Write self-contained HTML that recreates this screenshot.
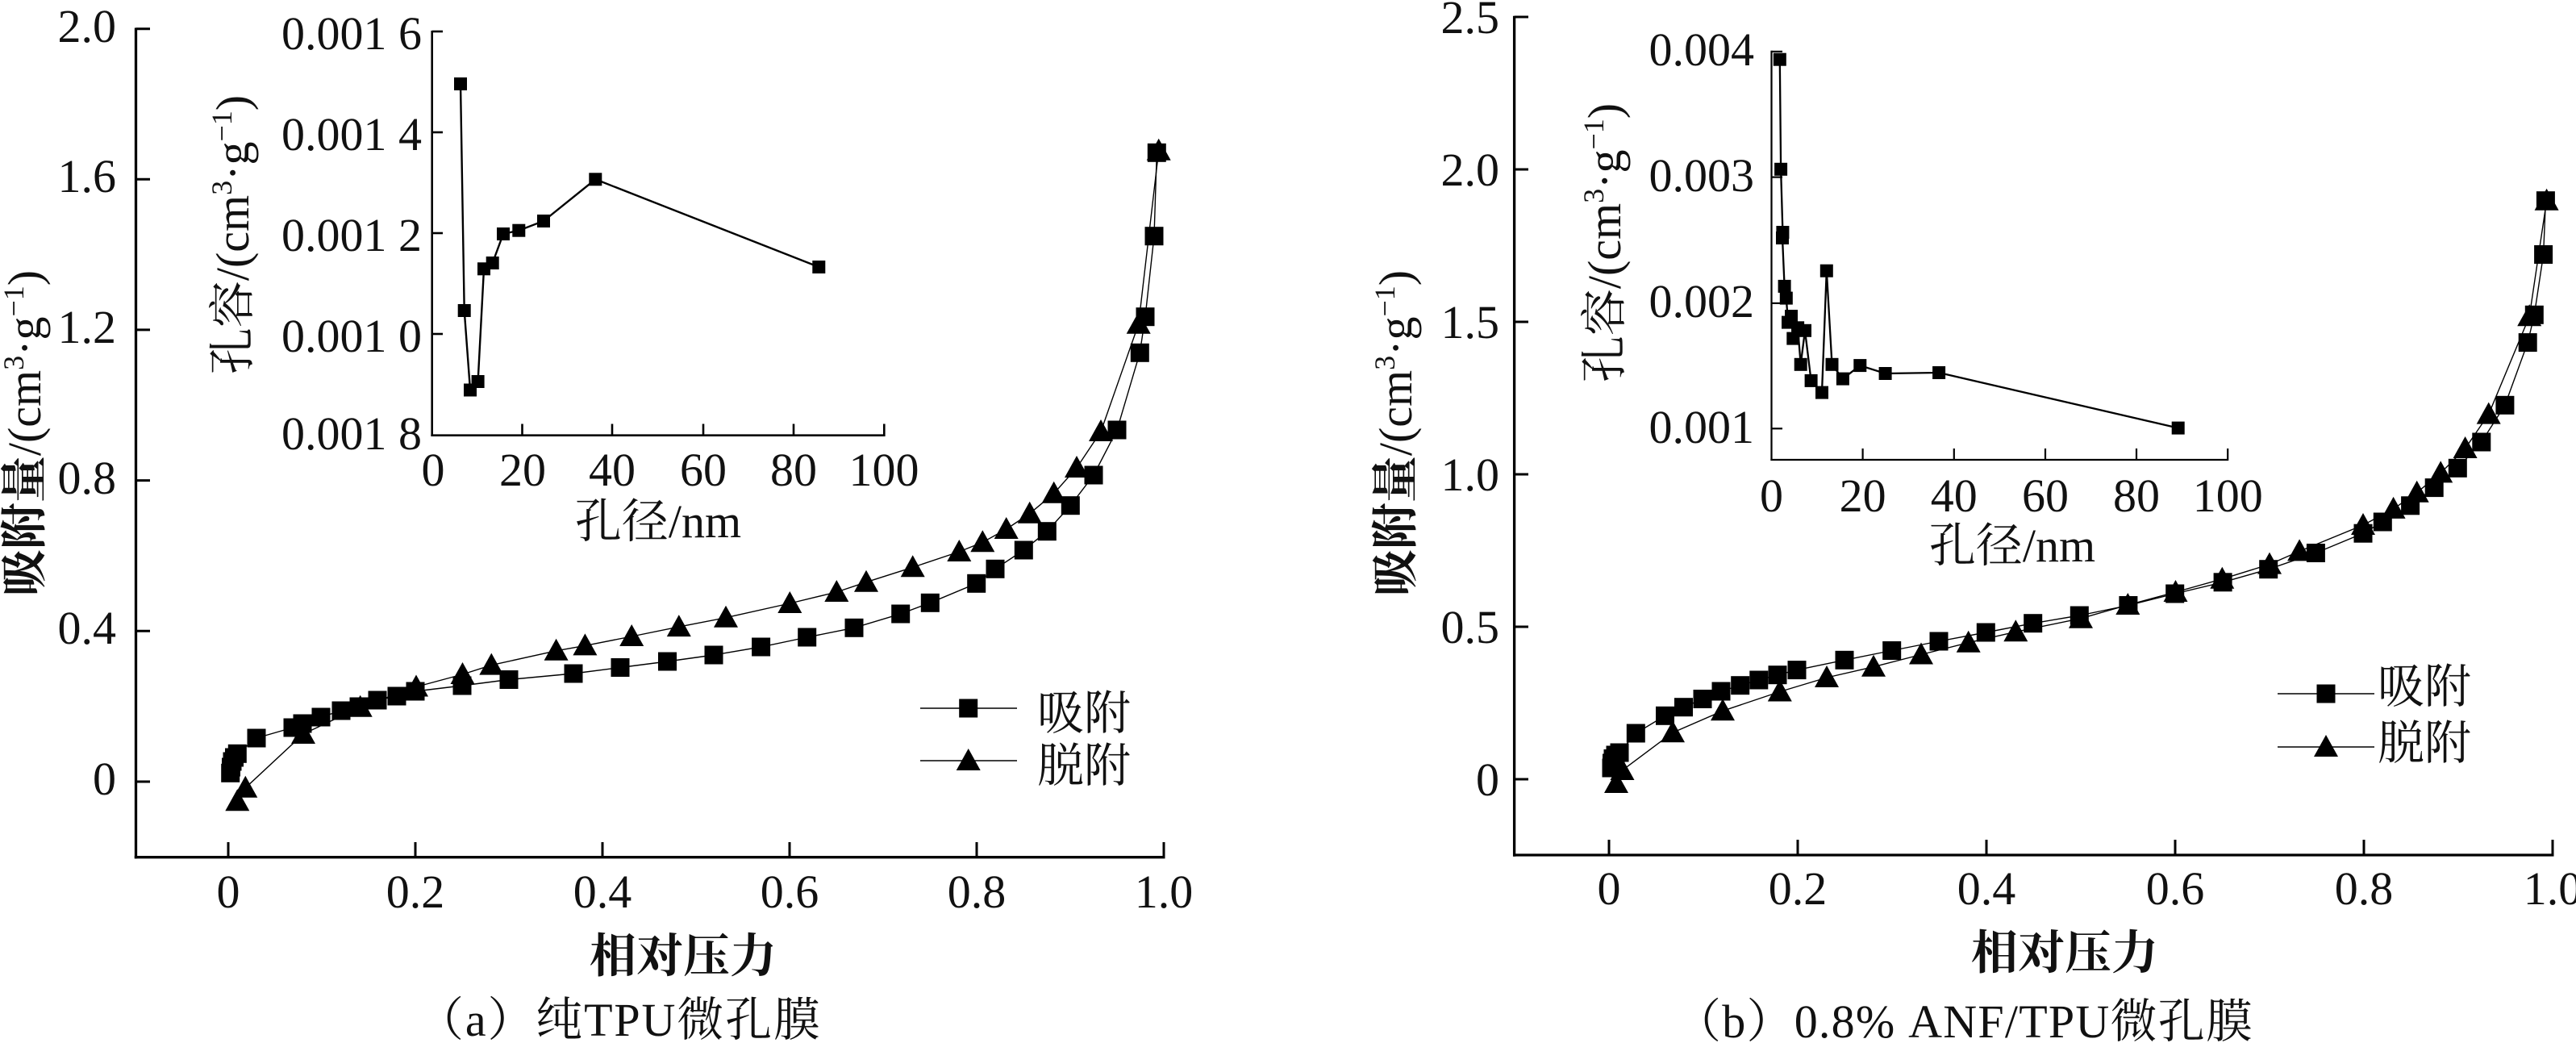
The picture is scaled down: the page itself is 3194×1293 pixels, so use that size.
<!DOCTYPE html>
<html>
<head>
<meta charset="utf-8">
<style>
  html,body{margin:0;padding:0;background:#fff;}
  svg{display:block;font-family:"Liberation Serif","Noto Serif CJK SC",serif;}
  svg text, svg tspan{font-family:"Liberation Serif","Noto Serif CJK SC",serif;fill:#111;}
</style>
</head>
<body>
<svg width="3194" height="1293" viewBox="0 0 3194 1293" xmlns="http://www.w3.org/2000/svg" font-family="'Liberation Serif', 'Noto Serif CJK SC', serif">
<defs>
  <rect id="sq" x="-11.5" y="-11.5" width="23" height="23" fill="#000"/>
  <path id="tr" d="M0,-15 L15,12 L-15,12 Z" fill="#000"/>
  <rect id="sm" x="-8" y="-8" width="16" height="16" fill="#000"/>
</defs>
<rect width="3194" height="1293" fill="#fff"/>
<g font-family="'Liberation Serif', 'Noto Serif CJK SC', serif">

<!-- ================= LEFT MAIN ================= -->
<g stroke="#000" fill="none">
  <line x1="168.5" y1="34.5" x2="168.5" y2="1064.4" stroke-width="3.3"/>
  <line x1="166.8" y1="1062.7" x2="1444.5" y2="1062.7" stroke-width="3.3"/>
  <g stroke-width="3">
    <line x1="168.5" y1="35.7" x2="186" y2="35.7"/>
    <line x1="168.5" y1="222.2" x2="186" y2="222.2"/>
    <line x1="168.5" y1="408.9" x2="186" y2="408.9"/>
    <line x1="168.5" y1="595.6" x2="186" y2="595.6"/>
    <line x1="168.5" y1="782.3" x2="186" y2="782.3"/>
    <line x1="168.5" y1="969" x2="186" y2="969"/>
    <line x1="283" y1="1062.7" x2="283" y2="1044"/>
    <line x1="515" y1="1062.7" x2="515" y2="1044"/>
    <line x1="747" y1="1062.7" x2="747" y2="1044"/>
    <line x1="979" y1="1062.7" x2="979" y2="1044"/>
    <line x1="1211" y1="1062.7" x2="1211" y2="1044"/>
    <line x1="1443" y1="1062.7" x2="1443" y2="1044"/>
  </g>
</g>
<g font-size="58" text-anchor="end">
  <text x="144" y="52">2.0</text>
  <text x="144" y="238">1.6</text>
  <text x="144" y="425">1.2</text>
  <text x="144" y="612">0.8</text>
  <text x="144" y="798">0.4</text>
  <text x="144" y="985">0</text>
</g>
<g font-size="58" text-anchor="middle">
  <text x="283" y="1125">0</text>
  <text x="515" y="1125">0.2</text>
  <text x="747" y="1125">0.4</text>
  <text x="979" y="1125">0.6</text>
  <text x="1211" y="1125">0.8</text>
  <text x="1443" y="1125">1.0</text>
</g>
<text transform="translate(50,537) rotate(-90)" text-anchor="middle" font-size="58"><tspan font-weight="bold">吸附量</tspan>/(cm<tspan font-size="36" dy="-21">3</tspan><tspan dy="21">·g</tspan><tspan font-size="36" dy="-21">−1</tspan><tspan dy="21">)</tspan></text>
<text x="847" y="1205" font-size="58" font-weight="bold" text-anchor="middle">相对压力</text>
<text x="517" y="1284" font-size="58" textLength="500" lengthAdjust="spacing">（a）纯TPU微孔膜</text>

<!-- left main curves -->
<g fill="none" stroke="#000" stroke-width="1.4">
  <polyline points="285.7,958.3 286.5,951 288,944 290.5,939 294.3,934.3 318,915 363,902 375,897 398,889 423,881 445,876 468,868 492,863 515,857 573,850 631,842.5 711,835 769,827.5 827.5,820 885,812 943.6,802 1000.7,790 1059,778.3 1116.7,761 1153.3,747.3 1210.7,723.3 1234,705.3 1269.3,682 1298.3,658.7 1327.3,626.7 1356,589 1385,533 1413.3,437.3 1420,392.7 1431,292.7 1434.3,189.3"/>
  <polyline points="294.3,993.3 304.3,976.7 376,910 446.7,876.7 516,851.5 573.5,836 609.3,824.6 689.6,806.8 725.4,800.4 783.2,789 841.8,777.1 900,765.7 979.3,748 1037.3,734 1074,721.7 1131.7,703.3 1189.3,684 1218.3,672.3 1247.7,656 1276.7,636.7 1306.7,611.7 1335,580 1365,535 1411.7,401.7 1436.7,186.7"/>
</g>
<g>
  <use href="#sq" x="285.7" y="958.3"/><use href="#sq" x="286.5" y="951"/><use href="#sq" x="288" y="944"/><use href="#sq" x="290.5" y="939"/><use href="#sq" x="294.3" y="934.3"/>
  <use href="#sq" x="318" y="915"/><use href="#sq" x="363" y="902"/><use href="#sq" x="375" y="897"/><use href="#sq" x="398" y="889"/><use href="#sq" x="423" y="881"/>
  <use href="#sq" x="445" y="876"/><use href="#sq" x="468" y="868"/><use href="#sq" x="492" y="863"/><use href="#sq" x="515" y="857"/><use href="#sq" x="573" y="850"/>
  <use href="#sq" x="631" y="842.5"/><use href="#sq" x="711" y="835"/><use href="#sq" x="769" y="827.5"/><use href="#sq" x="827.5" y="820"/><use href="#sq" x="885" y="812"/>
  <use href="#sq" x="943.6" y="802"/><use href="#sq" x="1000.7" y="790"/><use href="#sq" x="1059" y="778.3"/><use href="#sq" x="1116.7" y="761"/><use href="#sq" x="1153.3" y="747.3"/>
  <use href="#sq" x="1210.7" y="723.3"/><use href="#sq" x="1234" y="705.3"/><use href="#sq" x="1269.3" y="682"/><use href="#sq" x="1298.3" y="658.7"/><use href="#sq" x="1327.3" y="626.7"/>
  <use href="#sq" x="1356" y="589"/><use href="#sq" x="1385" y="533"/><use href="#sq" x="1413.3" y="437.3"/><use href="#sq" x="1420" y="392.7"/><use href="#sq" x="1431" y="292.7"/><use href="#sq" x="1434.3" y="189.3"/>
</g>
<g>
  <use href="#tr" x="294.3" y="993.3"/><use href="#tr" x="304.3" y="976.7"/><use href="#tr" x="376" y="910"/><use href="#tr" x="446.7" y="876.7"/><use href="#tr" x="516" y="851.5"/>
  <use href="#tr" x="573.5" y="836"/><use href="#tr" x="609.3" y="824.6"/><use href="#tr" x="689.6" y="806.8"/><use href="#tr" x="725.4" y="800.4"/><use href="#tr" x="783.2" y="789"/>
  <use href="#tr" x="841.8" y="777.1"/><use href="#tr" x="900" y="765.7"/><use href="#tr" x="979.3" y="748"/><use href="#tr" x="1037.3" y="734"/><use href="#tr" x="1074" y="721.7"/>
  <use href="#tr" x="1131.7" y="703.3"/><use href="#tr" x="1189.3" y="684"/><use href="#tr" x="1218.3" y="672.3"/><use href="#tr" x="1247.7" y="656"/><use href="#tr" x="1276.7" y="636.7"/>
  <use href="#tr" x="1306.7" y="611.7"/><use href="#tr" x="1335" y="580"/><use href="#tr" x="1365" y="535"/><use href="#tr" x="1411.7" y="401.7"/><use href="#tr" x="1436.7" y="186.7"/>
</g>
<!-- left legend -->
<g stroke="#000" stroke-width="1.4">
  <line x1="1141" y1="878" x2="1261" y2="878"/>
  <line x1="1141" y1="943" x2="1261" y2="943"/>
</g>
<use href="#sq" x="1200.7" y="878"/>
<use href="#tr" x="1200.7" y="943"/>
<text x="1286" y="904" font-size="58">吸附</text>
<text x="1286" y="969" font-size="58">脱附</text>

<!-- left inset -->
<g stroke="#000" fill="none" stroke-width="2.6">
  <line x1="535.7" y1="38" x2="535.7" y2="541"/>
  <line x1="534.4" y1="539.7" x2="1096.3" y2="539.7"/>
  <line x1="535.7" y1="39" x2="549" y2="39"/>
  <line x1="535.7" y1="164" x2="549" y2="164"/>
  <line x1="535.7" y1="289" x2="549" y2="289"/>
  <line x1="535.7" y1="414" x2="549" y2="414"/>
  <line x1="647.5" y1="539.7" x2="647.5" y2="525.5"/>
  <line x1="759" y1="539.7" x2="759" y2="525.5"/>
  <line x1="872" y1="539.7" x2="872" y2="525.5"/>
  <line x1="984" y1="539.7" x2="984" y2="525.5"/>
  <line x1="1096.3" y1="541" x2="1096.3" y2="525.5"/>
</g>
<g font-size="58" text-anchor="end">
  <text x="523" y="61">0.001 6</text>
  <text x="523" y="186">0.001 4</text>
  <text x="523" y="311">0.001 2</text>
  <text x="523" y="436">0.001 0</text>
  <text x="523" y="557">0.001 8</text>
</g>
<g font-size="58" text-anchor="middle">
  <text x="537" y="602">0</text>
  <text x="648" y="602">20</text>
  <text x="759" y="602">40</text>
  <text x="872" y="602">60</text>
  <text x="984" y="602">80</text>
  <text x="1096" y="602">100</text>
</g>
<text x="816" y="666" font-size="58" text-anchor="middle">孔径/nm</text>
<text transform="translate(308,291) rotate(-90)" text-anchor="middle" font-size="58">孔容/(cm<tspan font-size="36" dy="-21">3</tspan><tspan dy="21">·g</tspan><tspan font-size="36" dy="-21">−1</tspan><tspan dy="21">)</tspan></text>
<polyline fill="none" stroke="#000" stroke-width="2.4" points="571,104 575.7,385 583,483.5 592.6,473 600,333.3 610.7,326 624,290 643.3,285.7 674,274 738.3,222.3 1015.3,331"/>
<g>
  <use href="#sm" x="571" y="104"/><use href="#sm" x="575.7" y="385"/><use href="#sm" x="583" y="483.5"/><use href="#sm" x="592.6" y="473"/>
  <use href="#sm" x="600" y="333.3"/><use href="#sm" x="610.7" y="326"/><use href="#sm" x="624" y="290"/><use href="#sm" x="643.3" y="285.7"/>
  <use href="#sm" x="674" y="274"/><use href="#sm" x="738.3" y="222.3"/><use href="#sm" x="1015.3" y="331"/>
</g>

<!-- ================= RIGHT MAIN ================= -->
<g stroke="#000" fill="none">
  <line x1="1877.6" y1="19.8" x2="1877.6" y2="1061.7" stroke-width="3.3"/>
  <line x1="1876" y1="1060" x2="3166.5" y2="1060" stroke-width="3.3"/>
  <g stroke-width="3">
    <line x1="1877.6" y1="21" x2="1895" y2="21"/>
    <line x1="1877.6" y1="210" x2="1895" y2="210"/>
    <line x1="1877.6" y1="399" x2="1895" y2="399"/>
    <line x1="1877.6" y1="588" x2="1895" y2="588"/>
    <line x1="1877.6" y1="777" x2="1895" y2="777"/>
    <line x1="1877.6" y1="966" x2="1895" y2="966"/>
    <line x1="1995" y1="1060" x2="1995" y2="1041"/>
    <line x1="2229" y1="1060" x2="2229" y2="1041"/>
    <line x1="2463" y1="1060" x2="2463" y2="1041"/>
    <line x1="2697" y1="1060" x2="2697" y2="1041"/>
    <line x1="2931" y1="1060" x2="2931" y2="1041"/>
    <line x1="3165" y1="1060" x2="3165" y2="1041"/>
  </g>
</g>
<g font-size="58" text-anchor="end">
  <text x="1859" y="41">2.5</text>
  <text x="1859" y="230">2.0</text>
  <text x="1859" y="419">1.5</text>
  <text x="1859" y="608">1.0</text>
  <text x="1859" y="797">0.5</text>
  <text x="1859" y="986">0</text>
</g>
<g font-size="58" text-anchor="middle">
  <text x="1995" y="1121">0</text>
  <text x="2229" y="1121">0.2</text>
  <text x="2463" y="1121">0.4</text>
  <text x="2697" y="1121">0.6</text>
  <text x="2931" y="1121">0.8</text>
  <text x="3165" y="1121">1.0</text>
</g>
<text transform="translate(1750,537) rotate(-90)" text-anchor="middle" font-size="58"><tspan font-weight="bold">吸附量</tspan>/(cm<tspan font-size="36" dy="-21">3</tspan><tspan dy="21">·g</tspan><tspan font-size="36" dy="-21">−1</tspan><tspan dy="21">)</tspan></text>
<text x="2560" y="1201" font-size="58" font-weight="bold" text-anchor="middle">相对压力</text>
<text x="2076" y="1286" font-size="58" textLength="717" lengthAdjust="spacing">（b）0.8% ANF/TPU微孔膜</text>

<!-- right main curves -->
<g fill="none" stroke="#000" stroke-width="1.4">
  <polyline points="1998,952 1998.5,946 2000,940.5 2003,936 2008,933 2028.3,909 2064.5,887.3 2087.5,876.7 2111,866.5 2134,857 2157.7,849.7 2180.8,843 2204,836.7 2228,830.6 2287,818.3 2345.7,806.5 2404,795 2462.3,784 2520.7,772.7 2578.3,763 2638.9,750.5 2696.7,736 2756.1,721.8 2812.7,705.7 2871.4,685.5 2930,661.2 2954.3,647 2988.6,626.8 3018.2,604.6 3047.3,580.3 3076.8,548 3105.9,502.3 3134.2,424.6 3142.3,390.3 3153.6,315.5 3156.4,248.7"/>
  <polyline points="2004,971 2011.5,955 2074,908.2 2136,881.3 2206.8,857.5 2265,840 2323,826.7 2382,811.5 2440.7,796.7 2499.3,783.3 2580,766.7 2638.3,750 2697.5,734 2755.3,717.8 2814,699.6 2851.1,683.4 2930,651 2967.6,630.9 2996.7,610.7 3026.2,586.4 3056.6,556 3085.7,513.6 3136.2,392.3 3157.6,248.7"/>
</g>
<g>
  <use href="#sq" x="1998" y="952"/><use href="#sq" x="1998.5" y="946"/><use href="#sq" x="2000" y="940.5"/><use href="#sq" x="2003" y="936"/><use href="#sq" x="2008" y="933"/>
  <use href="#sq" x="2028.3" y="909"/><use href="#sq" x="2064.5" y="887.3"/><use href="#sq" x="2087.5" y="876.7"/><use href="#sq" x="2111" y="866.5"/><use href="#sq" x="2134" y="857"/>
  <use href="#sq" x="2157.7" y="849.7"/><use href="#sq" x="2180.8" y="843"/><use href="#sq" x="2204" y="836.7"/><use href="#sq" x="2228" y="830.6"/><use href="#sq" x="2287" y="818.3"/>
  <use href="#sq" x="2345.7" y="806.5"/><use href="#sq" x="2404" y="795"/><use href="#sq" x="2462.3" y="784"/><use href="#sq" x="2520.7" y="772.7"/><use href="#sq" x="2578.3" y="763"/>
  <use href="#sq" x="2638.9" y="750.5"/><use href="#sq" x="2696.7" y="736"/><use href="#sq" x="2756.1" y="721.8"/><use href="#sq" x="2812.7" y="705.7"/><use href="#sq" x="2871.4" y="685.5"/>
  <use href="#sq" x="2930" y="661.2"/><use href="#sq" x="2954.3" y="647"/><use href="#sq" x="2988.6" y="626.8"/><use href="#sq" x="3018.2" y="604.6"/><use href="#sq" x="3047.3" y="580.3"/>
  <use href="#sq" x="3076.8" y="548"/><use href="#sq" x="3105.9" y="502.3"/><use href="#sq" x="3134.2" y="424.6"/><use href="#sq" x="3142.3" y="390.3"/><use href="#sq" x="3153.6" y="315.5"/><use href="#sq" x="3156.4" y="248.7"/>
</g>
<g>
  <use href="#tr" x="2004" y="971"/><use href="#tr" x="2011.5" y="955"/><use href="#tr" x="2074" y="908.2"/><use href="#tr" x="2136" y="881.3"/><use href="#tr" x="2206.8" y="857.5"/>
  <use href="#tr" x="2265" y="840"/><use href="#tr" x="2323" y="826.7"/><use href="#tr" x="2382" y="811.5"/><use href="#tr" x="2440.7" y="796.7"/><use href="#tr" x="2499.3" y="783.3"/>
  <use href="#tr" x="2580" y="766.7"/><use href="#tr" x="2638.3" y="750"/><use href="#tr" x="2697.5" y="734"/><use href="#tr" x="2755.3" y="717.8"/><use href="#tr" x="2814" y="699.6"/>
  <use href="#tr" x="2851.1" y="683.4"/><use href="#tr" x="2930" y="651"/><use href="#tr" x="2967.6" y="630.9"/><use href="#tr" x="2996.7" y="610.7"/><use href="#tr" x="3026.2" y="586.4"/>
  <use href="#tr" x="3056.6" y="556"/><use href="#tr" x="3085.7" y="513.6"/><use href="#tr" x="3136.2" y="392.3"/><use href="#tr" x="3157.6" y="248.7"/>
</g>
<!-- right legend -->
<g stroke="#000" stroke-width="1.4">
  <line x1="2824" y1="860" x2="2944" y2="860"/>
  <line x1="2824" y1="926" x2="2944" y2="926"/>
</g>
<use href="#sq" x="2884" y="860"/>
<use href="#tr" x="2884" y="926"/>
<text x="2948" y="871" font-size="58">吸附</text>
<text x="2948" y="941" font-size="58">脱附</text>

<!-- right inset -->
<g stroke="#000" fill="none" stroke-width="2.2">
  <line x1="2196.5" y1="62.8" x2="2196.5" y2="571"/>
  <line x1="2195.4" y1="570" x2="2762.2" y2="570"/>
  <line x1="2196.5" y1="63.9" x2="2210" y2="63.9"/>
  <line x1="2196.5" y1="219.6" x2="2210" y2="219.6"/>
  <line x1="2196.5" y1="375.9" x2="2210" y2="375.9"/>
  <line x1="2196.5" y1="531.3" x2="2210" y2="531.3"/>
  <line x1="2309.6" y1="570" x2="2309.6" y2="556"/>
  <line x1="2422.8" y1="570" x2="2422.8" y2="556"/>
  <line x1="2536" y1="570" x2="2536" y2="556"/>
  <line x1="2649" y1="570" x2="2649" y2="556"/>
  <line x1="2762.2" y1="571" x2="2762.2" y2="556"/>
</g>
<g font-size="58" text-anchor="end">
  <text x="2175" y="81">0.004</text>
  <text x="2175" y="237">0.003</text>
  <text x="2175" y="393">0.002</text>
  <text x="2175" y="549">0.001</text>
</g>
<g font-size="58" text-anchor="middle">
  <text x="2196.5" y="634">0</text>
  <text x="2309.6" y="634">20</text>
  <text x="2422.8" y="634">40</text>
  <text x="2536" y="634">60</text>
  <text x="2649" y="634">80</text>
  <text x="2762.2" y="634">100</text>
</g>
<text x="2495" y="696" font-size="58" text-anchor="middle">孔径/nm</text>
<text transform="translate(2009,301) rotate(-90)" text-anchor="middle" font-size="58">孔容/(cm<tspan font-size="36" dy="-21">3</tspan><tspan dy="21">·g</tspan><tspan font-size="36" dy="-21">−1</tspan><tspan dy="21">)</tspan></text>
<polyline fill="none" stroke="#000" stroke-width="2.3" points="2206.8,73.7 2208.1,209.8 2210.4,288 2210,295 2212.6,354.9 2214.8,369.6 2217,399.6 2221,392 2223.3,419.6 2229.1,406.3 2232.7,451.8 2238,409.8 2245.6,471.9 2259,486.6 2264.8,335.7 2271.5,451.8 2284.9,469.6 2306.3,453.1 2337.6,463 2404.1,462 2700.7,530.6"/>
<g>
  <use href="#sm" x="2206.8" y="73.7"/><use href="#sm" x="2208.1" y="209.8"/><use href="#sm" x="2210.4" y="288"/><use href="#sm" x="2210" y="295"/>
  <use href="#sm" x="2212.6" y="354.9"/><use href="#sm" x="2214.8" y="369.6"/><use href="#sm" x="2217" y="399.6"/><use href="#sm" x="2221" y="392"/>
  <use href="#sm" x="2223.3" y="419.6"/><use href="#sm" x="2229.1" y="406.3"/><use href="#sm" x="2232.7" y="451.8"/><use href="#sm" x="2238" y="409.8"/>
  <use href="#sm" x="2245.6" y="471.9"/><use href="#sm" x="2259" y="486.6"/><use href="#sm" x="2264.8" y="335.7"/><use href="#sm" x="2271.5" y="451.8"/>
  <use href="#sm" x="2284.9" y="469.6"/><use href="#sm" x="2306.3" y="453.1"/><use href="#sm" x="2337.6" y="463"/><use href="#sm" x="2404.1" y="462"/>
  <use href="#sm" x="2700.7" y="530.6"/>
</g>
</g>
</svg>
</body>
</html>
